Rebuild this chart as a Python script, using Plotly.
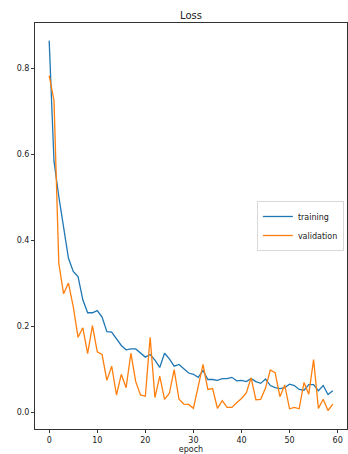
import plotly.graph_objects as go

epochs = list(range(60))
training = [0.864, 0.584, 0.502, 0.425, 0.359, 0.328, 0.316, 0.262, 0.232, 0.232,
            0.237, 0.222, 0.188, 0.187, 0.172, 0.156, 0.146, 0.148, 0.148, 0.138,
            0.129, 0.135, 0.122, 0.105, 0.138, 0.125, 0.108, 0.112, 0.102, 0.092,
            0.089, 0.082, 0.098, 0.077, 0.077, 0.075, 0.079, 0.079, 0.082, 0.074,
            0.075, 0.072, 0.079, 0.072, 0.068, 0.078, 0.063, 0.058, 0.056, 0.058,
            0.066, 0.063, 0.054, 0.052, 0.065, 0.065, 0.051, 0.063, 0.042, 0.051]
validation = [0.783, 0.725, 0.347, 0.276, 0.301, 0.247, 0.175, 0.197, 0.137, 0.202,
              0.141, 0.135, 0.075, 0.108, 0.041, 0.089, 0.058, 0.138, 0.072, 0.041,
              0.038, 0.175, 0.035, 0.085, 0.031, 0.045, 0.100, 0.031, 0.020, 0.019,
              0.010, 0.064, 0.112, 0.054, 0.056, 0.010, 0.028, 0.012, 0.012, 0.023,
              0.033, 0.046, 0.081, 0.030, 0.031, 0.057, 0.099, 0.093, 0.037, 0.064,
              0.009, 0.012, 0.009, 0.070, 0.043, 0.123, 0.010, 0.031, 0.005, 0.020]
x_ticks = [0, 10, 20, 30, 40, 50, 60]
y_ticks = [0.0, 0.2, 0.4, 0.6, 0.8]
y_tick_labels = ["0.0", "0.2", "0.4", "0.6", "0.8"]

font = "DejaVu Sans"
fig = go.Figure()
fig.add_trace(go.Scatter(x=epochs, y=training, mode="lines", name="training",
                         line=dict(color="#1f77b4", width=1.3)))
fig.add_trace(go.Scatter(x=epochs, y=validation, mode="lines", name="validation",
                         line=dict(color="#ff7f0e", width=1.3)))

axis_common = dict(showline=True, linecolor="#333333", linewidth=1, mirror=True,
                   showgrid=False, zeroline=False, ticks="outside", ticklen=3,
                   tickcolor="#333333", tickwidth=1,
                   tickfont=dict(family=font, size=8, color="#222222"))

fig.update_layout(
    width=348, height=454,
    margin=dict(l=35, r=1, t=23, b=25),
    paper_bgcolor="white", plot_bgcolor="white",
    title=dict(text="Loss", x=0.5 * (35 + 347) / 348, xanchor="center",
               y=1 - 15 / 454, yanchor="middle",
               font=dict(family=font, size=10, color="#222222")),
    xaxis=dict(range=[-2.95, 61.95], tickvals=x_ticks,
               title=dict(text="epoch", standoff=4,
                          font=dict(family=font, size=8, color="#222222")),
               automargin=False, **axis_common),
    yaxis=dict(range=[-0.038, 0.905], tickvals=y_ticks, ticktext=y_tick_labels,
               automargin=False, **axis_common),
    legend=dict(x=0.99, xanchor="right", y=0.5, yanchor="middle",
                bgcolor="rgba(255,255,255,0.8)", bordercolor="#d8d8d8", borderwidth=1,
                font=dict(family=font, size=8, color="#222222"),
                itemwidth=30, tracegroupgap=0),
    showlegend=True,
)

fig.write_html("out.html", config={"displayModeBar": False},
               post_script="document.body.style.margin='0';document.body.style.overflow='hidden';")
